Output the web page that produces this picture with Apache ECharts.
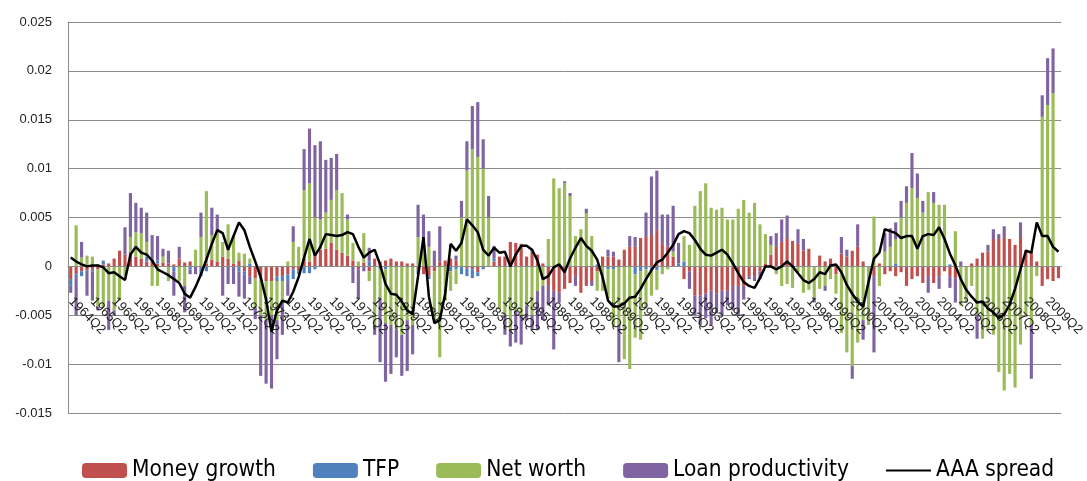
<!DOCTYPE html>
<html><head><meta charset="utf-8">
<script src="https://cdn.jsdelivr.net/npm/echarts@6/dist/echarts.min.js"></script>
<style>html,body{margin:0;padding:0;background:#fff}#c{width:1087px;height:481px}</style>
</head><body><div id="c"></div>
<script>
// Quarters 1964Q2 .. 2009Q4
const startYear = 1964, startQ = 2, nQuarters = 183;
const categories = [];
for (let k = 0; k < nQuarters; k++) { const q = startQ - 1 + k; categories.push((startYear + Math.floor(q / 4)) + 'Q' + (q % 4 + 1)); }

// values in thousandths (x 0.001)
const moneyGrowth = [
-1.3,-0.8,-0.5,-0.4,-0.3,-0.3,0.2,0.3,0.8,1.6,
1.2,1.5,1.0,0.8,0.5,0.7,0.3,0.4,0.3,0.2,
0.8,0.4,0.5,0,0,0.3,0.7,0.5,1.0,0.8,
0.3,0.6,-0.5,-1.0,-1.2,-1.0,-1.5,-1.5,-1.0,-1.0,
-0.8,-0.3,-0.5,0.8,0.5,1.5,1.7,1.8,2.4,1.7,
1.4,1.1,0.6,-0.3,0.4,-0.5,0.8,0.5,0.6,0.8,
0.5,0.5,0.3,0.3,-0.3,-0.8,-1.0,-0.5,0.5,0.6,
0.8,0.6,0,-0.2,-0.3,-0.6,0,0,0.5,1.0,
1.0,2.5,2.4,2.3,1.0,1.5,1.2,0.3,-2.0,-2.5,
-2.7,-2.3,-1.7,-1.0,-2.7,-2.0,-1.5,-0.5,1.0,1.0,
1.0,0.7,1.7,2.0,2.0,2.9,3.0,3.2,3.7,2.3,
2.0,1.0,0,-1.3,-0.5,-3.0,-3.0,-2.8,-2.5,-2.8,
-2.5,-2.5,-2.0,-2.0,-2.0,-1.0,-1.0,-0.5,0.3,1.2,
2.0,2.5,2.9,2.6,2.3,1.6,1.8,0,1.1,0.5,
0.8,-0.8,1.3,1.0,1.6,2.0,0.5,0,-1.0,0.3,
-0.8,-0.5,-1.0,-0.6,-2.0,-1.3,-1.0,-1.7,-1.0,-1.7,
-1.0,-0.5,-1.0,-1.2,0,0,0.3,0.8,1.4,1.5,
2.8,2.8,3.0,2.8,2.2,3.0,1.7,1.5,0.5,-2.0,
-1.3,-1.5,-1.2];
const tfp = [
-0.7,-0.4,-0.5,0,-0.2,0.2,0.4,0,0,0,
0,0,0,0,0.5,0,0.3,0,0,-0.5,
0,0,-0.3,0,-1.0,-0.5,0,0,0,0,
0,-0.5,-0.3,0.3,0,0,0,0,-0.5,-0.5,
-0.7,-1.0,-0.3,-0.7,-0.7,-0.3,0,0,0,0,
0,0,0,0,0,0.5,0,-0.3,-0.3,0,
0,0,0,0,-0.5,0,-0.3,0,0,0,
-0.5,-0.3,-0.8,-0.8,-0.9,-0.4,-0.3,0,0.3,0,
0,0,0,0,0,0.3,0,0,0,0,
0,0,0,0,0,0,0,0.2,0,-0.3,
-0.3,0,0,0,-0.8,-0.5,-0.3,-0.5,-0.4,0,
0,0,0.3,0.5,0,0,0,0,0,0,
0,0,0,0,0,0,0,0,0,0,
0,0,0,0,0,0,0,0,0,0,
0,0,0,0,0,0,0,0,0,0,
0,0,0.3,0,0,0,0,0,0,0,
0,0,0.2,0,0,0,0,0,0,0,
0,0,0,0,0,0,0,0,0,0,
0,0,0];
const netWorth = [
0,4.2,0.9,1.1,1.0,-3.8,-4.2,-3.5,-4.5,-3.5,
-1.0,1.5,2.5,2.6,1.5,-2.0,-2.0,0.6,-1.5,0,
-1.5,-2.0,0,1.7,3.0,7.4,2.5,3.0,1.5,3.5,
2.8,0.8,1.3,0.5,-3.0,-4.0,-4.0,-3.5,-4.0,-2.0,
0.5,2.5,2.0,7.0,8.0,3.5,3.1,3.7,4.4,6.1,
6.1,3.7,1.8,0.5,3.0,-1.0,-6.0,-3.0,-5.5,-6.0,
-6.5,-7.0,-5.5,-6.0,3.0,2.5,2.0,-5.0,-9.3,-3.5,
-2.0,-1.5,5.0,9.8,12.0,11.2,10.0,5.0,0,-4.4,
-5.0,-6.5,-4.5,-5.0,-4.0,-5.0,-2.5,-2.0,2.8,9.0,
8.0,8.5,7.2,3.1,3.8,5.4,3.1,-2.0,-2.5,-3.0,
-5.8,-6.0,-9.5,-10.5,-6.5,-7.0,-4.0,-2.5,-2.0,-0.8,
-0.3,0.5,0,2.6,2.2,6.2,7.7,8.5,6.0,5.8,
6.0,4.8,4.8,5.9,6.8,5.5,6.5,4.3,3.0,1.0,
-0.8,-2.0,-1.8,-2.2,-0.6,-2.7,-2.4,-3.2,-2.3,-2.0,
-1.3,-2.0,-6.8,-8.8,-10.2,-7.8,-5.5,-6.0,5.1,-2.0,
1.5,2.0,2.5,5.0,6.5,8.0,7.0,5.5,7.6,6.5,
6.3,6.3,0,3.6,-4.0,-3.7,-2.0,-5.0,-7.4,-6.5,
-7.0,-10.8,-12.7,-11.0,-12.4,-8.0,-5.0,-6.0,-1.0,15.3,
16.5,17.7,0];
const loanProductivity = [
-0.7,-3.8,1.6,-2.6,-3.0,-0.4,0,-3.0,-0.5,0,
2.8,4.5,3.0,2.6,3.0,2.5,2.5,0.8,1.3,-2.5,
1.2,-2.7,-0.5,-0.8,2.5,0,2.8,1.8,-3.0,-1.8,
-1.8,-2.6,-2.5,-0.8,-1.2,-6.2,-6.5,-7.5,-4.0,-3.5,
-1.5,1.6,0,4.2,5.6,7.4,8.0,5.4,4.3,3.7,
0,0.5,-1.7,-3.0,-0.5,1.4,-1.0,-6.5,-6.0,-5.0,
-2.8,-4.2,-5.2,-3.0,3.3,2.8,1.6,1.6,3.6,0,
0,0.5,1.7,3.0,4.4,5.6,3.0,2.2,1.3,0,
-2.0,-1.7,-3.3,-3.0,-1.5,-1.5,-4.0,-3.5,-2.0,-6.0,
-1.0,0.2,0.3,-1.0,0,0.5,-0.5,0,0,0.7,
0.5,-3.8,0,1.1,1.0,0,2.5,6.0,6.1,3.0,
3.3,4.7,2.1,0,-1.8,-2.0,-3.0,-2.5,-3.5,-2.0,
-2.5,-1.5,-2.5,-3.0,-1.4,-0.3,-0.5,-0.8,0,0.9,
1.4,2.3,2.3,0,1.5,1.2,0,-0.5,0,-0.5,
0,0,1.7,0.7,-1.3,2.3,-2.0,0,-7.8,0,
1.9,1.9,1.7,1.7,1.7,3.6,2.5,1.2,-1.7,1.1,
-1.3,0,-1.2,-2.5,0.5,0,0,-2.4,0,0.7,
1.0,0.5,1.1,0,0,1.5,0,-5.5,0,2.2,
4.8,4.6,0];
const aaaSpread = [
0.9,0.5,0.2,0.0,0.1,0.1,-0.1,-0.7,-0.6,-1.0,
-1.4,1.2,2.0,1.4,1.2,0.6,-0.3,-0.6,-0.9,-1.3,
-1.7,-2.8,-3.2,-2.1,-0.8,0.7,2.3,3.7,3.4,1.7,
3.1,4.5,3.7,2.0,0.5,-1.1,-3.4,-6.7,-4.5,-3.5,
-3.7,-2.6,-1.1,0.9,2.8,1.1,2.0,3.3,3.2,3.1,
3.2,3.5,3.3,2.0,0.9,1.4,1.7,0.2,-1.8,-2.8,
-2.9,-3.6,-4.5,-4.9,-1.0,3.0,-3.1,-5.8,-5.5,-2.8,
2.3,1.6,2.4,4.8,4.2,3.5,1.7,1.1,1.9,1.4,
1.5,0.0,1.2,2.1,2.1,1.7,0.6,-1.3,-1.0,-0.1,
0.2,-0.6,0.8,1.9,2.9,2.1,1.6,0.7,-1.1,-3.5,
-4.1,-4.1,-3.8,-3.2,-3.1,-2.3,-1.3,-0.4,0.4,0.7,
1.4,2.2,3.3,3.6,3.4,2.7,1.8,1.2,1.1,1.4,
1.7,1.2,0.3,-0.7,-1.6,-2.0,-2.2,-1.2,0.0,0.0,
-0.3,0.0,0.5,0.0,-0.7,-1.4,-1.7,-1.3,-0.6,-0.8,
0.1,0.2,-0.6,-1.9,-2.8,-3.6,-4.1,-1.6,0.8,1.4,
3.8,3.6,3.4,2.9,3.1,3.1,1.8,3.1,3.3,3.2,
4.0,2.8,1.3,0.1,-1.3,-2.4,-3.1,-3.7,-3.6,-4.3,
-4.7,-5.3,-4.9,-3.9,-2.3,-0.3,1.6,1.4,4.5,3.1,
3.1,2.0,1.5];

const seriesNames = ['Money growth', 'TFP', 'Net worth', 'Loan productivity', 'AAA spread'];
const colors = ['#c0504d', '#4f81bd', '#9bbb59', '#8064a2', '#000000'];
const yTicks = { min: -0.015, max: 0.025, interval: 0.005 };
const UNIT = 0.001;
const toUnits = a => a.map(v => +(v * UNIT).toFixed(6));

const font = "'Liberation Sans Narrow','DejaVu Sans Condensed','Liberation Sans',sans-serif";
const barSeries = [moneyGrowth, tfp, netWorth, loanProductivity].map((arr, k) => ({
  name: seriesNames[k], type: 'bar', stack: 'total', data: toUnits(arr),
  barWidth: '58%', itemStyle: { color: colors[k] }, z: 2
}));

const gridTop = 22, gridBottom = 68, chartH = 481;
const plotH = chartH - gridTop - gridBottom;
// distance from the bottom of the plot up to the zero line
const zeroOffset = plotH * (0 - yTicks.min) / (yTicks.max - yTicks.min);

const lineIcon = 'path://M0,0 M0,6.5 L45,6.5 L45,8.5 L0,8.5 Z M45,15';

const chart = echarts.init(document.getElementById('c'), null, { renderer: 'canvas' });
chart.setOption({
  animation: false,
  backgroundColor: '#fff',
  grid: { left: 68, right: 4, top: gridTop, bottom: gridBottom, containLabel: false },
  legend: {
    top: 454, left: 77, itemWidth: 45, itemHeight: 15, itemGap: 37,
    textStyle: { fontSize: 22.5, fontFamily: font, color: '#000' },
    data: seriesNames.slice(0, 4).concat([{ name: seriesNames[4], icon: lineIcon }])
  },
  xAxis: {
    type: 'category', data: categories,
    offset: -zeroOffset, z: 5,
    axisLine: { onZero: false, lineStyle: { color: '#8c8c8c', width: 1 } },
    axisTick: { show: false },
    axisLabel: { interval: 3, rotate: -45, fontSize: 13, color: '#222', margin: 33, fontFamily: "'Liberation Sans',sans-serif" },
    splitLine: { show: false }
  },
  yAxis: {
    type: 'value', min: yTicks.min, max: yTicks.max, interval: yTicks.interval,
    axisLine: { show: true, lineStyle: { color: '#8c8c8c' } },
    axisTick: { show: false },
    axisLabel: { fontSize: 13, color: '#222', margin: 16, fontFamily: "'Liberation Sans',sans-serif",
      formatter: v => String(+v.toFixed(3)) },
    splitLine: { lineStyle: { color: '#8c8c8c', width: 1 } }
  },
  series: barSeries.concat([{
    name: seriesNames[4], type: 'line', data: toUnits(aaaSpread), z: 10,
    symbol: 'none', lineStyle: { color: '#000', width: 2.5 }, itemStyle: { color: '#000' }
  }])
});
</script></body></html>
